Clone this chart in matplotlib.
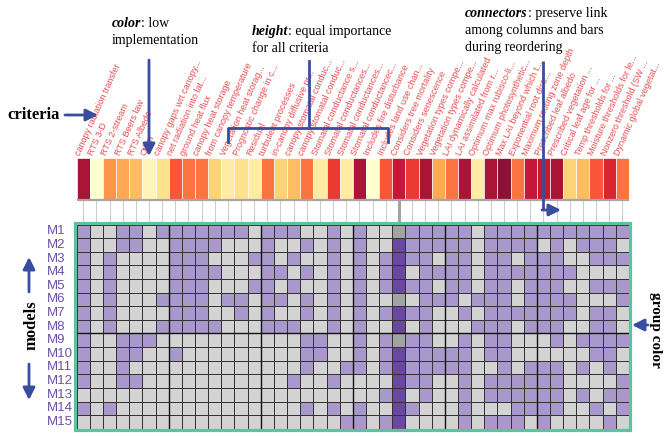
import matplotlib
matplotlib.use('Agg')
import matplotlib.pyplot as plt
import numpy as np
from matplotlib.colors import ListedColormap, Normalize
from matplotlib.patches import Rectangle

# ---------------- data ----------------
criteria = [
    'canopy radiation transfer', 'RTS 3-D', 'RTS 2-stream', "RTS Beers law", 'RTS Albedo',
    'Other', 'canopy gaps wrt canopy...', 'net radiation into lat...', 'ground heat flux',
    'canopy heat storage', 'from canopy temperature', 'Vegetation heat storag...',
    'Prognostic change in c...', 'Residual', 'turbulent processes', 'in-canopy diffusive pr...',
    'canopy stomatal conduc...', 'canopy stomatal conduc...', 'Stomatal conductance s...',
    'Stomatal conductances...', 'Stomatal conductances...', 'Stomatal conductancec...',
    'Includes fire disturbance', 'Includes land use chan...', 'Considers tree mortality',
    'Considers senescence', 'Vegetation types compe...', 'Vegetation types compe...',
    'LAI dynamically calculated', 'LAI assimilated from r...', 'Optimum max rubisco-li...',
    'Optimum photosynthetic...', 'Max LAI beyond which t...', 'Exponential root distr...',
    'Maximum rooting zone depth', 'Prescribed leaf albedo', 'Prescribed vegetation ...',
    'Critical leaf age for ...', 'Temp thresholds for ...', 'Moisture thresholds for le...',
    'Nonzero threshold (SW ...', 'Dynamic global vegetat...',
]
models = ['M1', 'M2', 'M3', 'M4', 'M5', 'M6', 'M7', 'M8', 'M9', 'M10',
          'M11', 'M12', 'M13', 'M14', 'M15']

# equal importance for all criteria
importance = [1.0] * len(criteria)

# 0 = not implemented, 1 = implemented, 2 = implemented (selected column), 3 = missing (selected column)
implementation_rows = [
    '10011011111110' '11100101003111' '11011111111111',
    '10011001111000' '10010101002111' '11011110101110',
    '10100001110001' '10100101012110' '11011011100111',
    '10100001111000' '11010101012011' '11011111110000',
    '10100001110001' '10100101012110' '11011011100111',
    '10100011110110' '11010101003011' '10111011110001',
    '10100001110010' '10010101012110' '01011111110110',
    '10100011111000' '11100101002010' '00111011100110',
    '10011100000000' '00011001013110' '01011000101111',
    '10011001000000' '00011001012111' '11011000000110',
    '10010000000000' '00010011012111' '11001011101010',
    '10011000000000' '00100100002110' '01011111100001',
    '00000000000000' '00000000012010' '01011111101011',
    '10100000000000' '00010101002100' '01000111100101',
    '00000000000000' '00000011012000' '01011101000010',
]
group_cols = [7, 14, 21, 28, 35]
group_rows = [8]

mat = np.array([[int(c) for c in r] for r in implementation_rows])
n_rows, n_cols = mat.shape
counts = np.isin(mat, [1, 2]).sum(axis=0)
bar_colors = plt.get_cmap('YlOrRd')(Normalize(0, 14)(counts))
selected = np.where((mat >= 2).any(axis=0))[0]

# ---------------- layout (pixels) ----------------
W, H = 664, 436
GRID_L, GRID_R, GRID_T, GRID_B = 76.7, 628.9, 224.7, 428.7
BAR_T, BAR_B = 158.5, 200.0
BLUE = '#3a4c9e'
SERIF = ['Liberation Serif', 'DejaVu Serif']
SANS = ['Liberation Sans', 'DejaVu Sans']


def frac(x0, y0, x1, y1):
    return [x0 / W, 1 - y1 / H, (x1 - x0) / W, (y1 - y0) / H]


fig = plt.figure(figsize=(W / 100, H / 100), dpi=100)

# ---- criteria bars ----
ax_bar = fig.add_axes(frac(GRID_L, BAR_T, GRID_R, GRID_T))
xs = np.arange(n_cols)
low = -(GRID_T - BAR_B) / (BAR_B - BAR_T)
ax_bar.set_xlim(-0.5, n_cols - 0.5)
ax_bar.set_ylim(low, 1)
ax_bar.vlines(xs, low, 0, colors='#cdcdcd', lw=0.8)
ax_bar.vlines(selected, low, 0, colors='#a3a3a3', lw=2.2)
ax_bar.bar(xs, importance, width=1, color=bar_colors, edgecolor='white', lw=0.5, alpha=0.92)
ax_bar.axhline(0, color='#aaa3ab', lw=1.6)
ax_bar.axis('off')
for i, lab in enumerate(criteria):
    ax_bar.text(i - 0.1, 1.04, lab, rotation=66, rotation_mode='anchor',
                ha='left', va='bottom', fontsize=6.5, color='#ea4d52', family=SANS)

# ---- models x criteria grid ----
ax_hm = fig.add_axes(frac(GRID_L, GRID_T, GRID_R, GRID_B))
cell_cmap = ListedColormap(['#d3d3d3', '#a898cb', '#6b489f', '#a3a4a2'])
ax_hm.pcolormesh(mat, cmap=cell_cmap, vmin=-0.5, vmax=3.5,
                 edgecolors='#333333', linewidth=0.65)
ax_hm.set_xlim(0, n_cols)
ax_hm.set_ylim(n_rows, 0)
for g in group_cols:
    ax_hm.axvline(g, color='#111111', lw=1.0)
for g in group_rows:
    ax_hm.axhline(g, color='#111111', lw=1.0)
ax_hm.axis('off')
for i, m in enumerate(models):
    ax_hm.text(-2.3, i + 0.5, m, ha='left', va='center', fontsize=9.5,
               color='#6b4fa8', family=SANS)

# ---- annotations ----
ax_ann = fig.add_axes([0, 0, 1, 1], zorder=5)
ax_ann.set_xlim(0, W)
ax_ann.set_ylim(H, 0)
ax_ann.axis('off')
ax_ann.patch.set_visible(False)

ax_ann.add_patch(Rectangle((75.3, 223.2), 555.0, 207.2, fill=False,
                           edgecolor='#62bfa0', lw=2.3))

renderer = fig.canvas.get_renderer()


def rich(x, y, parts, size=10):
    for s, style in parts:
        t = ax_ann.text(x, y, s, fontsize=size, family=SERIF, va='baseline', **style)
        x += t.get_window_extent(renderer).width


BI = dict(fontweight='bold', fontstyle='italic')
rich(112, 27, [('color', BI), (': low', {})])
rich(112, 44, [('implementation', {})])
rich(252, 35, [('height', BI), (': equal importance', {})])
rich(252, 52, [('for all criteria', {})])
rich(465, 17, [('connectors', BI), (': preserve link', {})])
rich(465, 34, [('among columns and bars', {})])
rich(465, 51, [('during reordering', {})])

ax_ann.text(7, 119, 'criteria', fontsize=12, fontweight='bold', family=SERIF, va='baseline')
ax_ann.text(31, 325, 'models', fontsize=12, fontweight='bold', family=SERIF,
            rotation=90, ha='center', va='center')
ax_ann.text(655.5, 330, 'group color', fontsize=11, fontweight='bold', family=SERIF,
            rotation=270, ha='center', va='center')


def arrow(x0, y0, x1, y1):
    ax_ann.annotate('', xy=(x1, y1), xytext=(x0, y0),
                    arrowprops=dict(arrowstyle='-|>,head_length=0.6,head_width=0.3',
                                    color=BLUE, lw=2, shrinkA=0, shrinkB=0,
                                    mutation_scale=12))


arrow(65, 115, 98, 115)
arrow(149, 60, 149, 156)
arrow(29, 292, 29, 257)
arrow(29, 364, 29, 400)
arrow(648, 325, 632, 325)
ax_ann.plot([543, 543], [61, 210], color=BLUE, lw=2, solid_capstyle='butt')
arrow(542, 210, 561, 210)
# height bracket
ax_ann.plot([228, 228, 388, 388], [142, 128, 128, 142], color=BLUE, lw=2,
            solid_joinstyle='round')
ax_ann.plot([309, 309], [61, 128], color=BLUE, lw=2)

fig.savefig('out.png', dpi=100)
